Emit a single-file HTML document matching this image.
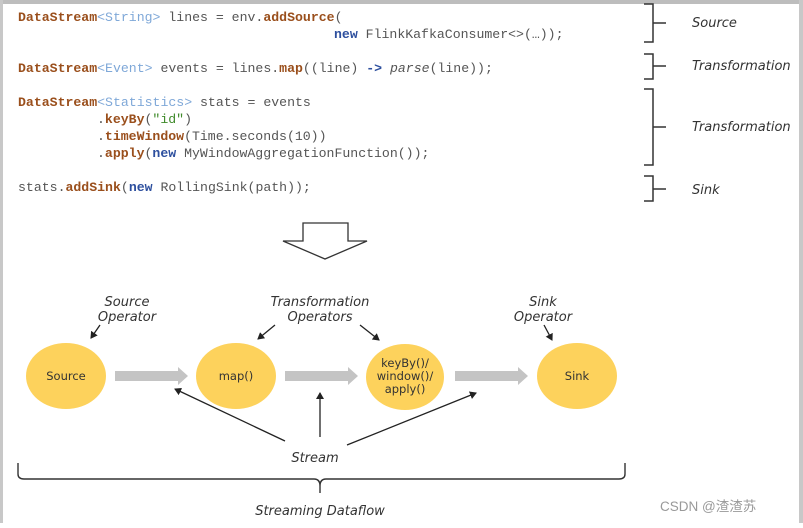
<!DOCTYPE html>
<html><head><meta charset="utf-8"><style>
body{margin:0;width:803px;height:523px;overflow:hidden;background:#fff;}
.code{font-family:"Liberation Mono",monospace;font-size:13.2px;fill:#555;}
.k{fill:#9a4f1c;font-weight:bold}
.t{fill:#7fa8d8}
.n{fill:#2d4f9e;font-weight:bold}
.s{fill:#3f8a2a}
.lbl{font-family:"DejaVu Sans","Liberation Sans",sans-serif;font-style:italic;font-size:13px;fill:#333}
.node{font-family:"DejaVu Sans","Liberation Sans",sans-serif;font-size:11.5px;fill:#333}
</style></head><body>
<svg width="803" height="523" xmlns="http://www.w3.org/2000/svg">
<rect x="0" y="0" width="803" height="523" fill="#fff"/>
<rect x="0" y="0" width="803" height="4" fill="#bdbdbd"/>
<rect x="0" y="0" width="3" height="523" fill="#c8c8c8"/>
<rect x="799" y="0" width="4" height="523" fill="#c8c8c8"/>
<g class="code">
<text x="18" y="21"><tspan class="k">DataStream</tspan><tspan class="t">&lt;String&gt;</tspan> lines = env.<tspan class="k">addSource</tspan>(</text>
<text x="334" y="38"><tspan class="n">new</tspan> FlinkKafkaConsumer&lt;&gt;(…));</text>
<text x="18" y="72"><tspan class="k">DataStream</tspan><tspan class="t">&lt;Event&gt;</tspan> events = lines.<tspan class="k">map</tspan>((line) <tspan class="n">-&gt;</tspan> <tspan font-style="italic">parse</tspan>(line));</text>
<text x="18" y="106"><tspan class="k">DataStream</tspan><tspan class="t">&lt;Statistics&gt;</tspan> stats = events</text>
<text x="97" y="123">.<tspan class="k">keyBy</tspan>(<tspan class="s">"id"</tspan>)</text>
<text x="97" y="140">.<tspan class="k">timeWindow</tspan>(Time.seconds(10))</text>
<text x="97" y="157">.<tspan class="k">apply</tspan>(<tspan class="n">new</tspan> MyWindowAggregationFunction());</text>
<text x="18" y="191">stats.<tspan class="k">addSink</tspan>(<tspan class="n">new</tspan> RollingSink(path));</text>
</g>
<g fill="none" stroke="#333" stroke-width="1.5">
<path d="M644 4 H653 V42 H644 M653 23 H666"/>
<path d="M644 54 H653 V79 H644 M653 66 H666"/>
<path d="M644 89 H653 V165 H644 M653 127 H666"/>
<path d="M644 176 H653 V201 H644 M653 189 H666"/>
</g>
<g class="lbl">
<text x="692" y="27">Source</text>
<text x="692" y="70">Transformation</text>
<text x="692" y="131">Transformation</text>
<text x="692" y="194">Sink</text>
</g>
<path d="M303 223 H348 V241 H367 L325 259 L283 241 H303 Z" fill="#fff" stroke="#333" stroke-width="1.3"/>
<g class="lbl" text-anchor="middle">
<text x="127" y="306">Source</text><text x="127" y="321">Operator</text>
<text x="320" y="306">Transformation</text><text x="320" y="321">Operators</text>
<text x="543" y="306">Sink</text><text x="543" y="321">Operator</text>
<text x="315" y="462">Stream</text>
<text x="320" y="515">Streaming Dataflow</text>
</g>
<defs><marker id="a" markerWidth="8" markerHeight="8" refX="6" refY="4" orient="auto" markerUnits="userSpaceOnUse"><path d="M0 0 L7 4 L0 8 Z" fill="#222"/></marker></defs>
<g stroke="#222" stroke-width="1.3" marker-end="url(#a)">
<line x1="100" y1="325" x2="91" y2="338"/>
<line x1="275" y1="325" x2="258" y2="339"/>
<line x1="360" y1="325" x2="379" y2="340"/>
<line x1="544" y1="325" x2="552" y2="340"/>
<line x1="285" y1="441" x2="175" y2="389"/>
<line x1="320" y1="437" x2="320" y2="393"/>
<line x1="347" y1="445" x2="476" y2="393"/>
</g>
<g fill="#fdd25c">
<ellipse cx="66" cy="376" rx="40" ry="33"/>
<ellipse cx="236" cy="376" rx="40" ry="33"/>
<ellipse cx="405" cy="377" rx="39" ry="33"/>
<ellipse cx="577" cy="376" rx="40" ry="33"/>
</g>
<g class="node" text-anchor="middle">
<text x="66" y="380">Source</text>
<text x="236" y="380">map()</text>
<text x="405" y="367">keyBy()/</text>
<text x="405" y="380">window()/</text>
<text x="405" y="393">apply()</text>
<text x="577" y="380">Sink</text>
</g>
<g fill="#c4c4c4">
<path d="M115 371 H178 V367 L188 376 L178 385 V381 H115 Z"/>
<path d="M285 371 H348 V367 L358 376 L348 385 V381 H285 Z"/>
<path d="M455 371 H518 V367 L528 376 L518 385 V381 H455 Z"/>
</g>
<path d="M18 463 V474 Q18 479 24 479 H314 Q320 479 320 486 V493 M320 486 Q320 479 326 479 H619 Q625 479 625 474 V463" fill="none" stroke="#333" stroke-width="1.4"/>
<text x="660" y="511" font-family="'Liberation Sans','Noto Sans CJK SC',sans-serif" font-size="13.5" fill="#999">CSDN @渣渣苏</text>
</svg>
</body></html>
